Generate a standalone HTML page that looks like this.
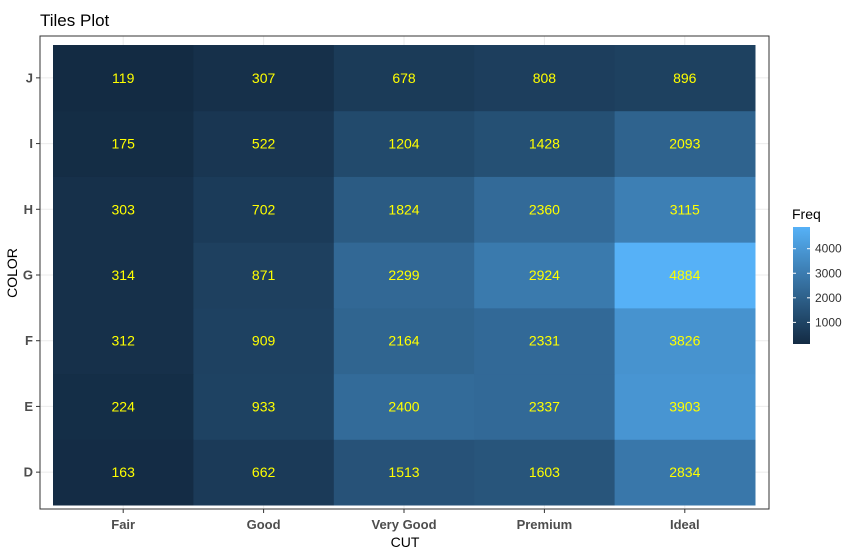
<!DOCTYPE html>
<html><head><meta charset="utf-8"><style>
body{margin:0;background:#fff;font-family:"Liberation Sans",Arial,sans-serif}
svg text{font-family:"Liberation Sans",Arial,sans-serif}
</style></head><body>
<svg id="chart" width="862" height="555">
<text x="40" y="26" font-size="17" fill="#000">Tiles Plot</text>
<g id="grid"></g>
<g id="tiles"></g>
<rect x="40" y="36" width="729" height="473" fill="none" stroke="#333" stroke-width="1"/>
<g id="axes"></g>
<text x="405" y="547" font-size="14" text-anchor="middle" fill="#000">CUT</text>
<text transform="translate(17,273) rotate(-90)" font-size="14" text-anchor="middle" fill="#000">COLOR</text>
<g id="legend"></g>
</svg>
<script>
const cuts=["Fair","Good","Very Good","Premium","Ideal"];
const colors=["D","E","F","G","H","I","J"];
const freqD=[163,662,1513,1603,2834];
const freqE=[224,933,2400,2337,3903];
const freqF=[312,909,2164,2331,3826];
const freqG=[314,871,2299,2924,4884];
const freqH=[303,702,1824,2360,3115];
const freqI=[175,522,1204,1428,2093];
const freqJ=[119,307,678,808,896];
const legendTicks=[1000,2000,3000,4000];
const rows=[freqD,freqE,freqF,freqG,freqH,freqI,freqJ];
const ns="http://www.w3.org/2000/svg";
function mk(t,a,p){const e=document.createElementNS(ns,t);for(const k in a)e.setAttribute(k,a[k]);p.appendChild(e);return e;}
const x0=53,x1=755,y0=45,y1=505;
const cw=(x1-x0)/cuts.length, rh=(y1-y0)/colors.length;
const xc=i=>x0+cw*(i+0.5);
const yc=j=>y1-rh*(j+0.5);
const all=rows.flat();const vmin=Math.min(...all),vmax=Math.max(...all);
const lo=[19,43,67],hi=[86,177,247];
function col(v){const t=(v-vmin)/(vmax-vmin);const c=lo.map((l,i)=>Math.round(l+(hi[i]-l)*Math.pow(t,1.0)));return `rgb(${c})`;}
const grid=document.getElementById('grid'),tiles=document.getElementById('tiles'),axes=document.getElementById('axes');
cuts.forEach((c,i)=>{
 let l=mk('line',{x1:xc(i),x2:xc(i),y1:36,y2:509,stroke:'#ebebeb'},grid);
 
 
 let tk=mk('line',{x1:xc(i),x2:xc(i),y1:509,y2:513,stroke:'#333'},axes);
 
 
 let t=mk('text',{x:xc(i),y:529,'text-anchor':'middle','font-size':13,'font-weight':'bold',fill:'#4d4d4d'},axes);t.textContent=c;
 
 
});
colors.forEach((c,j)=>{
 let l=mk('line',{x1:40,x2:769,y1:yc(j),y2:yc(j),stroke:'#ebebeb'},grid);
 
 
 let tk=mk('line',{x1:36,x2:40,y1:yc(j),y2:yc(j),stroke:'#333'},axes);
 
 
 let t=mk('text',{x:33,y:yc(j)+4.5,'text-anchor':'end','font-size':13,'font-weight':'bold',fill:'#4d4d4d'},axes);t.textContent=c;
 
 
 rows[j].forEach((v,i)=>{
  let r=mk('rect',{x:x0+cw*i,y:y1-rh*(j+1),width:cw+0.5,height:rh+0.5,fill:col(v)},tiles);
  
  
  let t=mk('text',{x:xc(i),y:yc(j)+5,'text-anchor':'middle','font-size':14,fill:'#ffff00'},tiles);t.textContent=v;
  
  
 });
});
const lg=document.getElementById('legend');
let lt=mk('text',{x:792,y:219,'font-size':14,fill:'#000'},lg);lt.textContent='Freq';


const ly0=227,ly1=344,lx=793,lw=17;
const ly=v=>ly1-(v-vmin)/(vmax-vmin)*(ly1-ly0);
const defs=mk('defs',{},lg);const gr=mk('linearGradient',{id:'lgrad',x1:0,y1:1,x2:0,y2:0},defs);
for(let k=0;k<=10;k++){mk('stop',{offset:k/10,'stop-color':col(vmin+(vmax-vmin)*k/10)},gr);}
let bar=mk('rect',{x:lx,y:ly0,width:lw,height:ly1-ly0,fill:'url(#lgrad)'},lg);


legendTicks.forEach(v=>{
 mk('line',{x1:lx,x2:lx+3,y1:ly(v),y2:ly(v),stroke:'#fff'},lg);
 mk('line',{x1:lx+lw-3,x2:lx+lw,y1:ly(v),y2:ly(v),stroke:'#fff'},lg);
 let t=mk('text',{x:815,y:ly(v)+4,'font-size':12,fill:'#333'},lg);t.textContent=v;
 
 
});
</script>
</body></html>
